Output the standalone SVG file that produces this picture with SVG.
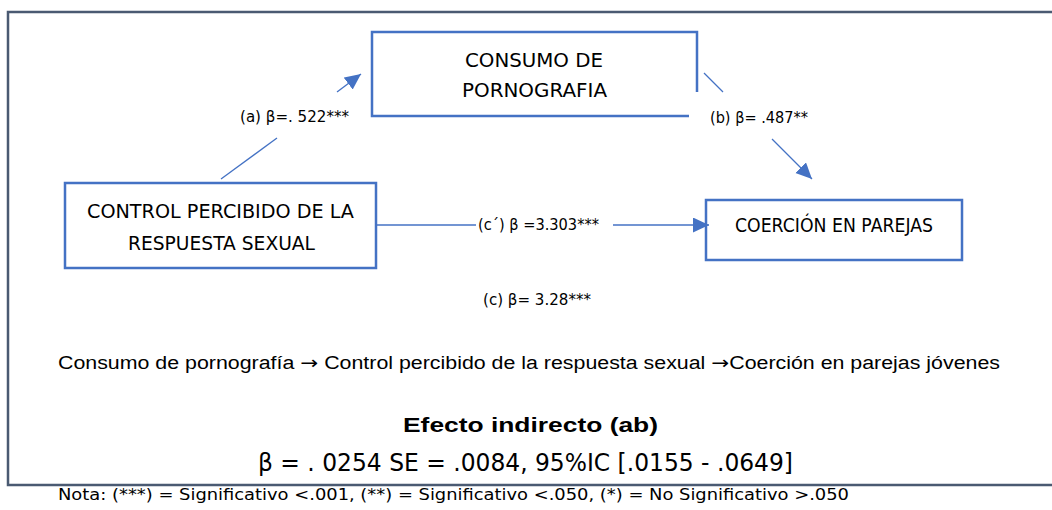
<svg xmlns="http://www.w3.org/2000/svg" width="1052" height="510" viewBox="0 0 1052 510">
<defs>
<marker id="ah" markerUnits="userSpaceOnUse" markerWidth="18" markerHeight="16" refX="16" refY="7.5" orient="auto">
<path d="M0,0 L16,7.5 L0,15 z" fill="#4472C4"/>
</marker>
<style>
.box{fill:none;stroke:#4472C4;stroke-width:2.5}
.frame{fill:none;stroke:#4A5A72;stroke-width:2.5}
.con line{stroke:#4472C4;stroke-width:1.3}
.cal{font-family:"DejaVu Sans",sans-serif;fill:#000}
.ari{font-family:"Liberation Sans",Arial,sans-serif;fill:#000}
.arr{font-family:"DejaVu Sans",sans-serif}
.lbl{font-size:15px}
.nt{font-size:20px}
</style>
</defs>
<rect width="1052" height="510" fill="#fff"/>
<path class="frame" d="M1054 12 H8 V485 H1054"/>
<g id="node-consumo">
<path class="box" d="M689 116 H372 V32 H697 V92"/>
<text class="cal nt" x="465" y="67" textLength="138" lengthAdjust="spacingAndGlyphs">CONSUMO DE</text>
<text class="cal nt" x="462" y="97" textLength="145" lengthAdjust="spacingAndGlyphs">PORNOGRAFIA</text>
</g>
<g id="node-control">
<rect class="box" x="65" y="183" width="311" height="85"/>
<text class="cal nt" x="87" y="218" textLength="267" lengthAdjust="spacingAndGlyphs">CONTROL PERCIBIDO DE LA</text>
<text class="cal nt" x="128" y="250" textLength="187" lengthAdjust="spacingAndGlyphs">RESPUESTA SEXUAL</text>
</g>
<g id="node-coercion">
<rect class="box" x="706" y="200" width="256" height="60"/>
<text class="cal nt" x="735" y="232" textLength="198" lengthAdjust="spacingAndGlyphs">COERCIÓN EN PAREJAS</text>
</g>
<g id="connectors" class="con">
<line x1="221" y1="179" x2="277" y2="138"/>
<line x1="337" y1="92" x2="361" y2="74" marker-end="url(#ah)"/>
<line x1="704" y1="73" x2="723" y2="92"/>
<line x1="772" y1="139" x2="812" y2="179" marker-end="url(#ah)"/>
<line x1="376" y1="225" x2="476" y2="225"/>
<line x1="613" y1="225" x2="709" y2="225" marker-end="url(#ah)"/>
</g>
<g id="labels">
<text class="cal lbl" x="240" y="122" textLength="109" lengthAdjust="spacingAndGlyphs">(a) β=. 522***</text>
<text class="cal lbl" x="710" y="123" textLength="98" lengthAdjust="spacingAndGlyphs">(b) β= .487**</text>
<text class="cal lbl" x="478" y="230" textLength="121" lengthAdjust="spacingAndGlyphs">(c´) β =3.303***</text>
<text class="cal lbl" x="483" y="305" textLength="108" lengthAdjust="spacingAndGlyphs">(c) β= 3.28***</text>
</g>
<g id="notes">
<text class="ari" x="58" y="369" font-size="18" textLength="942" lengthAdjust="spacingAndGlyphs">Consumo de pornografía <tspan class="arr">→</tspan> Control percibido de la respuesta sexual <tspan class="arr">→</tspan>Coerción en parejas jóvenes</text>
<text class="ari" x="403" y="432" font-size="21" font-weight="bold" textLength="255" lengthAdjust="spacingAndGlyphs">Efecto indirecto (ab)</text>
<text class="cal" x="258" y="471" font-size="25" textLength="535" lengthAdjust="spacingAndGlyphs">β = . 0254 SE = .0084, 95%IC [.0155 - .0649]</text>
<text class="cal" x="58" y="500" font-size="16" textLength="791" lengthAdjust="spacingAndGlyphs">Nota: (***) = Significativo &lt;.001, (**) = Significativo &lt;.050, (*) = No Significativo &gt;.050</text>
</g>
</svg>
